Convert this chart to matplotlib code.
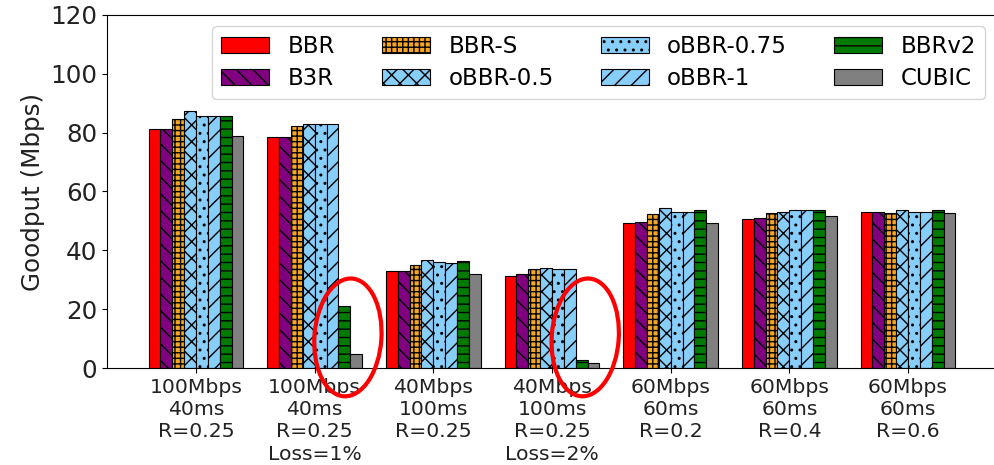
import matplotlib
matplotlib.use("Agg")
import matplotlib.pyplot as plt
from matplotlib.patches import Ellipse
from matplotlib.transforms import IdentityTransform
import numpy as np

# Scenarios on the x axis
scenarios = [
    "100Mbps\n40ms\nR=0.25",
    "100Mbps\n40ms\nR=0.25\nLoss=1%",
    "40Mbps\n100ms\nR=0.25",
    "40Mbps\n100ms\nR=0.25\nLoss=2%",
    "60Mbps\n60ms\nR=0.2",
    "60Mbps\n60ms\nR=0.4",
    "60Mbps\n60ms\nR=0.6",
]

# Goodput (Mbps) per algorithm, one value per scenario
bbr      = [81.3, 78.4, 33.0, 31.4, 49.2, 50.5, 53.2]
b3r      = [81.3, 78.4, 33.0, 31.9, 49.7, 50.9, 53.2]
bbr_s    = [84.7, 82.4, 35.0, 33.5, 52.4, 52.6, 52.8]
obbr_05  = [87.4, 83.1, 36.7, 34.1, 54.3, 53.0, 53.7]
obbr_075 = [85.7, 83.1, 36.0, 33.7, 53.2, 53.7, 53.2]
obbr_1   = [85.7, 83.1, 35.7, 33.7, 53.2, 53.7, 53.2]
bbrv2    = [85.7, 21.0, 36.3, 2.7, 53.6, 53.7, 53.7]
cubic    = [79.0, 4.8, 31.9, 1.8, 49.4, 51.7, 52.6]

names = ["BBR", "B3R", "BBR-S", "oBBR-0.5", "oBBR-0.75", "oBBR-1", "BBRv2", "CUBIC"]
series = [bbr, b3r, bbr_s, obbr_05, obbr_075, obbr_1, bbrv2, cubic]
colors = ["#ff0000", "#800080", "#f5a623", "#87cefa", "#87cefa", "#87cefa", "#007a00", "#808080"]
hatches = [None, "\\\\", "+++", "xx", "..", "//", "--", None]

# Scenarios whose lossy results are ringed in red
highlight_groups = [1, 3]

plt.rcParams["hatch.linewidth"] = 1.0
plt.rcParams["hatch.color"] = "#101030"

fig = plt.figure(figsize=(9.94, 4.65), dpi=100)
ax = fig.add_axes([107 / 994, 97 / 465, 890 / 994, 353 / 465])

x = np.arange(len(scenarios))
width = 0.1
for i, (name, vals, c, h) in enumerate(zip(names, series, colors, hatches)):
    ax.bar(x + (i - 3.5) * width, vals, width, color=c, edgecolor="black",
           linewidth=0.8, hatch=h, label=name)

ax.set_xlim(-0.75, 6.75)
ax.set_ylim(0, 120)
ax.set_yticks(range(0, 121, 20))
ax.set_xticks(x)
ax.set_xticklabels(scenarios, fontsize=14.7, color="#222222", linespacing=1.22)
ax.tick_params(axis="y", labelsize=17.7, labelcolor="#222222")
ax.set_ylabel("Goodput (Mbps)", fontsize=17.7, color="#222222")
ax.spines["right"].set_visible(False)

ax.legend(ncol=4, fontsize=16.5, loc="upper right", bbox_to_anchor=(0.9865, 0.969),
          borderaxespad=0, handlelength=2.1, handletextpad=0.8, columnspacing=2.05,
          labelspacing=0.4, borderpad=0.4, framealpha=0.8)

# Red rings drawn in pixel units around the collapsed bars of the lossy runs
scale = fig.dpi / 100
for g in highlight_groups:
    cx, cy = ax.transData.transform((g + 0.28, 10.4))
    fig.add_artist(Ellipse((cx, cy), 67 * scale, 118 * scale, angle=-4,
                           fill=False, edgecolor="red", linewidth=3,
                           transform=IdentityTransform(), zorder=5))

fig.savefig("out.png", dpi=100)
